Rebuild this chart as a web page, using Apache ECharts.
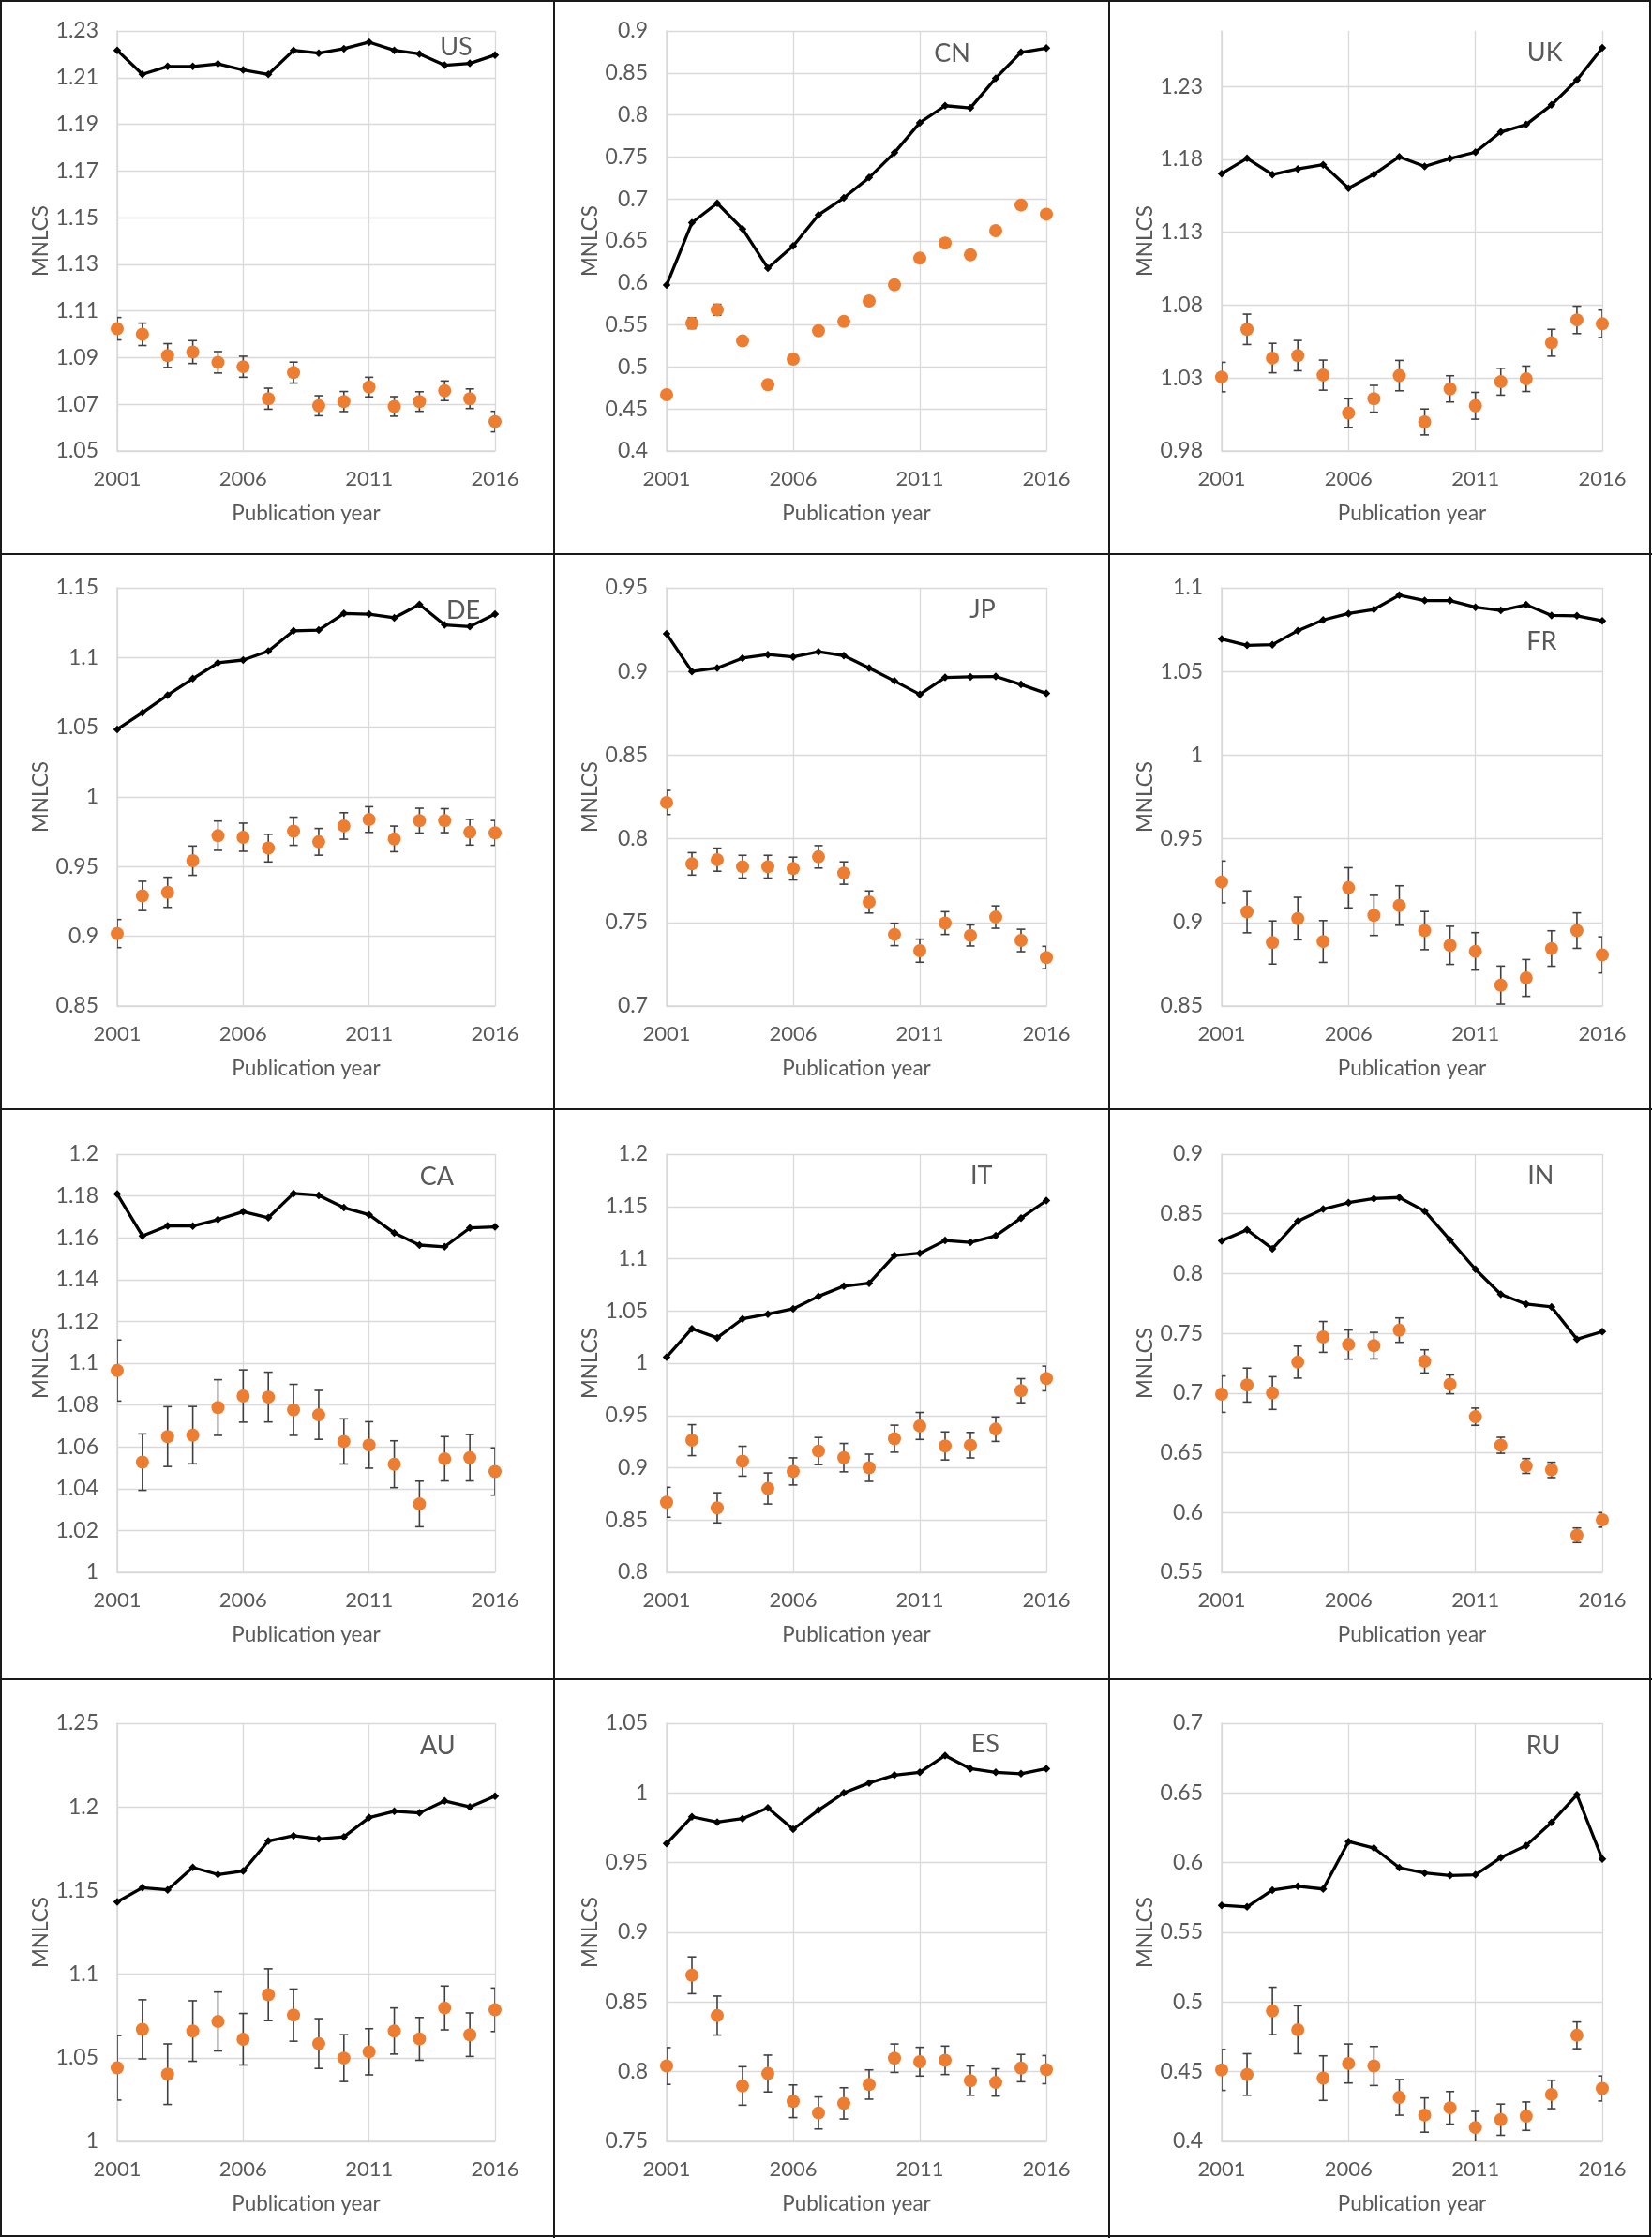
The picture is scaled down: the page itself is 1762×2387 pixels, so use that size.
<!DOCTYPE html>
<html><head><meta charset="utf-8">
<script src="https://cdn.jsdelivr.net/npm/echarts@6/dist/echarts.min.js"></script>
<style>html,body{margin:0;padding:0;background:#fff}#c{width:1762px;height:2387px}</style>
</head><body><div id="c"></div><script>
const years = [2001,2002,2003,2004,2005,2006,2007,2008,2009,2010,2011,2012,2013,2014,2015,2016];
const countries = ['US','CN','UK','DE','JP','FR','CA','IT','IN','AU','ES','RU'];

const US_line = [1.2217,1.2114,1.2148,1.2148,1.2159,1.2133,1.2114,1.2217,1.2205,1.2224,1.2252,1.2217,1.2202,1.2153,1.2161,1.2197];
const US_mean = [1.1024,1.1000,1.0909,1.0924,1.0880,1.0861,1.0724,1.0836,1.0694,1.0712,1.0774,1.0691,1.0712,1.0758,1.0724,1.0626];
const US_err  = [0.0048,0.0048,0.0051,0.0049,0.0046,0.0045,0.0045,0.0045,0.0043,0.0043,0.0042,0.0042,0.0042,0.0042,0.0042,0.0044];

const CN_line = [0.5975,0.6717,0.6949,0.6643,0.6177,0.6441,0.6810,0.7013,0.7255,0.7551,0.7907,0.8110,0.8084,0.8437,0.8745,0.8795];
const CN_mean = [0.4669,0.5521,0.5681,0.5310,0.4789,0.5093,0.5432,0.5542,0.5785,0.5979,0.6295,0.6475,0.6335,0.6622,0.6928,0.6819];
const CN_err  = [0.004,0.0065,0.0065,0.004,0.004,0.004,0.004,0.004,0.004,0.004,0.004,0.004,0.004,0.004,0.004,0.004];

const UK_line = [1.1702,1.1807,1.1695,1.1734,1.1763,1.1602,1.1697,1.1817,1.1751,1.1805,1.1849,1.1987,1.2038,1.2173,1.2344,1.2564];
const UK_mean = [1.0307,1.0634,1.0437,1.0454,1.0320,1.0060,1.0158,1.0317,0.9999,1.0226,1.0110,1.0275,1.0295,1.0542,1.0699,1.0672];
const UK_err  = [0.0101,0.0104,0.0101,0.0104,0.0103,0.0098,0.0092,0.0104,0.0089,0.0090,0.0092,0.0092,0.0087,0.0092,0.0094,0.0094];

const DE_line = [1.0485,1.0604,1.0730,1.0849,1.0962,1.0982,1.1046,1.1192,1.1197,1.1316,1.1311,1.1285,1.1381,1.1234,1.1222,1.1311];
const DE_mean = [0.9020,0.9290,0.9316,0.9543,0.9722,0.9711,0.9633,0.9754,0.9678,0.9792,0.9838,0.9699,0.9830,0.9830,0.9747,0.9742];
const DE_err  = [0.0101,0.0105,0.0108,0.0105,0.0105,0.0101,0.0099,0.0101,0.0096,0.0095,0.0092,0.0092,0.0089,0.0086,0.0092,0.0089];

const JP_line = [0.9225,0.9000,0.9021,0.9080,0.9101,0.9087,0.9118,0.9095,0.9021,0.8943,0.8863,0.8964,0.8968,0.8970,0.8922,0.8869];
const JP_mean = [0.8217,0.7850,0.7875,0.7833,0.7833,0.7822,0.7892,0.7795,0.7622,0.7428,0.7331,0.7496,0.7422,0.7532,0.7392,0.7290];
const JP_err  = [0.0072,0.0067,0.0069,0.0068,0.0068,0.0068,0.0067,0.0067,0.0066,0.0067,0.0069,0.0068,0.0063,0.0067,0.0067,0.0067];

const FR_line = [1.0694,1.0656,1.0660,1.0744,1.0808,1.0846,1.0871,1.0956,1.0924,1.0924,1.0884,1.0865,1.0899,1.0835,1.0833,1.0803];
const FR_mean = [0.9242,0.9063,0.8880,0.9023,0.8886,0.9207,0.9042,0.9101,0.8951,0.8863,0.8827,0.8625,0.8668,0.8844,0.8951,0.8806];
const FR_err  = [0.0125,0.0125,0.0129,0.0127,0.0125,0.0120,0.0120,0.0118,0.0114,0.0114,0.0112,0.0114,0.0110,0.0106,0.0106,0.0108];

const CA_line = [1.1809,1.1609,1.1657,1.1656,1.1687,1.1725,1.1696,1.1812,1.1803,1.1744,1.1710,1.1623,1.1565,1.1557,1.1647,1.1652];
const CA_mean = [1.0965,1.0527,1.0649,1.0656,1.0788,1.0843,1.0838,1.0777,1.0753,1.0626,1.0609,1.0517,1.0327,1.0543,1.0548,1.0482];
const CA_err  = [0.0146,0.0135,0.0143,0.0137,0.0133,0.0125,0.0119,0.0122,0.0117,0.0108,0.0111,0.0112,0.0109,0.0106,0.0111,0.0113];

const IT_line = [1.0059,1.0330,1.0243,1.0424,1.0469,1.0521,1.0640,1.0737,1.0765,1.1031,1.1052,1.1174,1.1156,1.1219,1.1389,1.1556];
const IT_mean = [0.8670,0.9264,0.8617,0.9063,0.8802,0.8965,0.9160,0.9097,0.9000,0.9278,0.9400,0.9209,0.9216,0.9369,0.9737,0.9854];
const IT_err  = [0.0143,0.0148,0.0144,0.0143,0.0148,0.0130,0.0130,0.0136,0.0130,0.0129,0.0129,0.0134,0.0122,0.0117,0.0115,0.0118];

const IN_line = [0.8275,0.8366,0.8208,0.8439,0.8540,0.8594,0.8628,0.8637,0.8524,0.8281,0.8037,0.7827,0.7745,0.7721,0.7451,0.7515];
const IN_mean = [0.6991,0.7067,0.7000,0.7259,0.7470,0.7406,0.7397,0.7527,0.7265,0.7073,0.6802,0.6563,0.6390,0.6357,0.5810,0.5939];
const IN_err  = [0.0152,0.0142,0.0137,0.0134,0.0129,0.0122,0.0111,0.0102,0.0097,0.0079,0.0072,0.0067,0.0062,0.0064,0.0061,0.0061];

const AU_line = [1.1432,1.1517,1.1504,1.1638,1.1596,1.1617,1.1796,1.1828,1.1809,1.1821,1.1936,1.1974,1.1964,1.2036,1.2000,1.2064];
const AU_mean = [1.0440,1.0670,1.0402,1.0660,1.0717,1.0611,1.0877,1.0755,1.0585,1.0498,1.0536,1.0660,1.0613,1.0798,1.0638,1.0787];
const AU_err  = [0.0193,0.0177,0.0181,0.0181,0.0176,0.0154,0.0155,0.0156,0.0149,0.0140,0.0138,0.0138,0.0128,0.0131,0.0130,0.0130];

const ES_line = [0.9637,0.9829,0.9791,0.9816,0.9893,0.9740,0.9877,1.0000,1.0072,1.0128,1.0148,1.0268,1.0174,1.0148,1.0138,1.0174];
const ES_mean = [0.8041,0.8692,0.8403,0.7898,0.7987,0.7788,0.7704,0.7773,0.7908,0.8097,0.8072,0.8082,0.7936,0.7923,0.8026,0.8015];
const ES_err  = [0.0132,0.0132,0.0140,0.0138,0.0132,0.0117,0.0115,0.0112,0.0105,0.0102,0.0103,0.0102,0.0105,0.0098,0.0098,0.0101];

const RU_line = [0.5694,0.5683,0.5803,0.5831,0.5811,0.6151,0.6105,0.5964,0.5926,0.5908,0.5913,0.6036,0.6123,0.6289,0.6487,0.6026];
const RU_mean = [0.4513,0.4480,0.4936,0.4801,0.4454,0.4559,0.4541,0.4316,0.4189,0.4241,0.4100,0.4156,0.4181,0.4337,0.4761,0.4380];
const RU_err  = [0.0147,0.0149,0.0170,0.0172,0.0160,0.0140,0.0140,0.0128,0.0123,0.0117,0.0115,0.0112,0.0102,0.0102,0.0096,0.0090];

// y-axis ranges / tick steps per panel
const yMin  = [1.05, 0.4, 0.98, 0.85, 0.7, 0.85, 1.0, 0.8, 0.55, 1.0, 0.75, 0.4];
const yMax  = [1.23, 0.9, 1.268, 1.15, 0.95, 1.1, 1.2, 1.2, 0.9, 1.25, 1.05, 0.7];
const yStep = [0.02, 0.05, 0.05, 0.05, 0.05, 0.05, 0.02, 0.05, 0.05, 0.05, 0.05, 0.05];
const xStep = 5;

const lineSets = [US_line,CN_line,UK_line,DE_line,JP_line,FR_line,CA_line,IT_line,IN_line,AU_line,ES_line,RU_line];
const meanSets = [US_mean,CN_mean,UK_mean,DE_mean,JP_mean,FR_mean,CA_mean,IT_mean,IN_mean,AU_mean,ES_mean,RU_mean];
const errSets  = [US_err,CN_err,UK_err,DE_err,JP_err,FR_err,CA_err,IT_err,IN_err,AU_err,ES_err,RU_err];

// layout (pixels)
const colLeft = [125, 711, 1303], colRight = [528, 1116, 1709];
const rowTop = [33, 627, 1231, 1838], rowBottom = [481, 1073, 1677, 2284];
const labelFrac = [[0.897,0.038],[0.752,0.055],[0.849,0.052],[0.916,0.055],[0.832,0.053],[0.841,0.129],
                   [0.846,0.054],[0.829,0.052],[0.838,0.052],[0.848,0.054],[0.839,0.051],[0.845,0.054]];

const FONT = 'Lato, "Noto Sans", sans-serif';
const TXT = '#595959', GRID = '#d9d9d9';

const grids = [], xAxes = [], yAxes = [], series = [], graphics = [];
countries.forEach((c, i) => {
  const r = Math.floor(i / 3), col = i % 3;
  const L = colLeft[col], R = colRight[col], T = rowTop[r], B = rowBottom[r];
  grids.push({left: L, top: T, width: R - L, height: B - T});
  xAxes.push({
    type: 'value', gridIndex: i, min: years[0], max: years[years.length - 1], interval: xStep,
    name: 'Publication year', nameLocation: 'middle', nameGap: 55,
    nameTextStyle: {color: TXT, fontSize: 22.5, fontFamily: FONT},
    axisLine: {show: true, onZero: false, lineStyle: {color: GRID, width: 1.5}},
    axisTick: {show: false},
    axisLabel: {margin: 19, color: TXT, fontSize: 22, fontFamily: FONT, formatter: v => String(v)},
    splitLine: {show: true, lineStyle: {color: GRID, width: 1.3}}
  });
  yAxes.push({
    type: 'value', gridIndex: i, min: yMin[i], max: yMax[i], interval: yStep[i],
    name: 'MNLCS', nameLocation: 'middle', nameGap: 70,
    nameTextStyle: {color: TXT, fontSize: 22.5, fontFamily: FONT},
    axisLine: {show: true, onZero: false, lineStyle: {color: GRID, width: 1.5}},
    axisTick: {show: false},
    axisLabel: {margin: 20, color: TXT, fontSize: 23, fontFamily: FONT, showMaxLabel: i !== 2,
                formatter: v => String(+(+v).toFixed(3))},
    splitLine: {show: true, showMaxLine: i !== 2, lineStyle: {color: GRID, width: 1.3}}
  });
  const mean = meanSets[i], err = errSets[i], line = lineSets[i];
  series.push({
    type: 'custom', xAxisIndex: i, yAxisIndex: i, clip: true, z: 2, silent: true,
    encode: {x: 0, y: [1, 2]},
    data: years.map((y, k) => [y, mean[k] - err[k], mean[k] + err[k]]),
    renderItem: (params, api) => {
      const x = api.value(0);
      const pLo = api.coord([x, api.value(1)]), pHi = api.coord([x, api.value(2)]);
      const cw = 4.5, st = {stroke: '#404040', lineWidth: 1.6};
      return {type: 'group', children: [
        {type: 'line', shape: {x1: pLo[0], y1: pLo[1], x2: pHi[0], y2: pHi[1]}, style: st},
        {type: 'line', shape: {x1: pLo[0] - cw, y1: pLo[1], x2: pLo[0] + cw, y2: pLo[1]}, style: st},
        {type: 'line', shape: {x1: pHi[0] - cw, y1: pHi[1], x2: pHi[0] + cw, y2: pHi[1]}, style: st}
      ]};
    }
  });
  series.push({
    type: 'scatter', xAxisIndex: i, yAxisIndex: i, z: 3, symbol: 'circle', symbolSize: 14,
    itemStyle: {color: '#ED7D31', opacity: 1},
    data: years.map((y, k) => [y, mean[k]])
  });
  series.push({
    type: 'line', xAxisIndex: i, yAxisIndex: i, z: 4, symbol: 'diamond', symbolSize: 8.5, showSymbol: true,
    lineStyle: {color: '#000', width: 3.3}, itemStyle: {color: '#000'},
    data: years.map((y, k) => [y, line[k]])
  });
  const fx = labelFrac[i][0], fy = labelFrac[i][1];
  graphics.push({
    type: 'text', x: L + fx * (R - L), y: T + fy * (B - T), z: 10,
    style: {text: c, fill: TXT, font: '27px ' + FONT, textAlign: 'center', textVerticalAlign: 'middle',
            align: 'center', verticalAlign: 'middle'}
  });
});

// table borders
const bst = {stroke: '#1a1a1a', lineWidth: 2, fill: null};
graphics.push({type: 'rect', shape: {x: 1, y: 1, width: 1759, height: 2384}, style: bst, z: 20});
[591, 1183].forEach(x => graphics.push({type: 'line', shape: {x1: x, y1: 0, x2: x, y2: 2387}, style: bst, z: 20}));
[591, 1183, 1791].forEach(y => graphics.push({type: 'line', shape: {x1: 0, y1: y, x2: 1762, y2: y}, style: bst, z: 20}));

const chart = echarts.init(document.getElementById('c'), null, {renderer: 'canvas'});
chart.setOption({
  animation: false,
  backgroundColor: '#fff',
  grid: grids, xAxis: xAxes, yAxis: yAxes, series: series, graphic: graphics
});
</script></body></html>
